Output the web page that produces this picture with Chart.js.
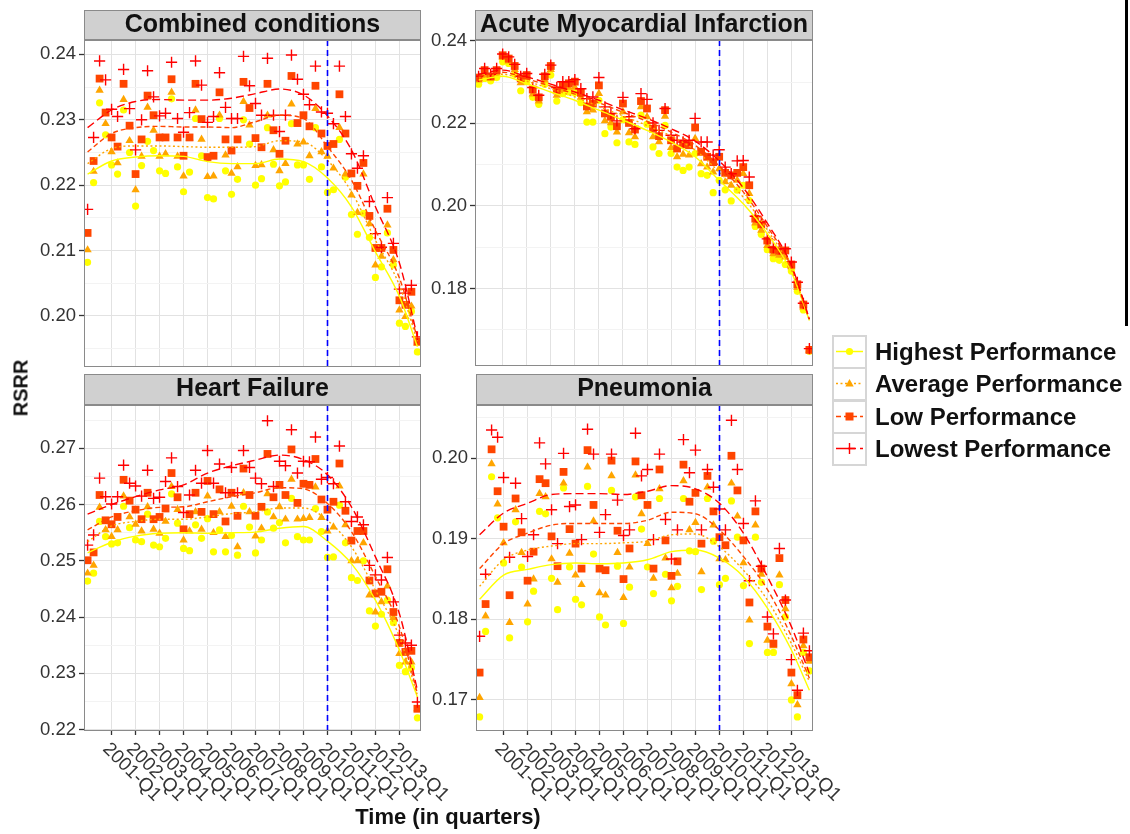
<!DOCTYPE html>
<html>
<head>
<meta charset="utf-8">
<script src="https://cdn.jsdelivr.net/npm/chart.js@4.4.0/dist/chart.umd.min.js"></script>
<style>
  html, body { margin:0; padding:0; background:#fff; }
  body { width:1130px; height:834px; overflow:hidden; position:relative; font-family:"Liberation Sans", Arial, sans-serif; }
  canvas { position:absolute; }
  .axtitle { position:absolute; font-weight:bold; color:#111; white-space:nowrap; }
  .legrow { position:absolute; left:832px; height:33px; }
  .legtext { position:absolute; left:43px; top:0; line-height:33px; font-size:24px; font-weight:bold; color:#111; white-space:nowrap; }
</style>
</head>
<body>
<canvas id="c0" width="440" height="392" style="left:0;top:0"></canvas>
<canvas id="c1" width="420" height="392" style="left:425px;top:0"></canvas>
<canvas id="c2" width="470" height="470" style="left:0;top:364px"></canvas>
<canvas id="c3" width="445" height="470" style="left:425px;top:364px"></canvas>
<div class="axtitle" style="left:448px;top:805px;font-size:22px;line-height:24px;transform:translateX(-50%)">Time (in quarters)</div>
<div class="axtitle" style="left:21px;top:388px;font-size:20px;transform:translate(-50%,-50%) rotate(-90deg)">RSRR</div>
<div id="legend"></div>
<div style="position:absolute;left:1125px;top:0;width:3px;height:326px;background:#000"></div>
<script>
// ---------------- DATA ----------------
const quarters = [
  '2000-Q1','2000-Q2','2000-Q3','2000-Q4','2001-Q1','2001-Q2','2001-Q3','2001-Q4',
  '2002-Q1','2002-Q2','2002-Q3','2002-Q4','2003-Q1','2003-Q2','2003-Q3','2003-Q4',
  '2004-Q1','2004-Q2','2004-Q3','2004-Q4','2005-Q1','2005-Q2','2005-Q3','2005-Q4',
  '2006-Q1','2006-Q2','2006-Q3','2006-Q4','2007-Q1','2007-Q2','2007-Q3','2007-Q4',
  '2008-Q1','2008-Q2','2008-Q3','2008-Q4','2009-Q1','2009-Q2','2009-Q3','2009-Q4',
  '2010-Q1','2010-Q2','2010-Q3','2010-Q4','2011-Q1','2011-Q2','2011-Q3','2011-Q4',
  '2012-Q1','2012-Q2','2012-Q3','2012-Q4','2013-Q1','2013-Q2','2013-Q3','2013-Q4'
];
const xTickLabels = ['2001-Q1','2002-Q1','2003-Q1','2004-Q1','2005-Q1','2006-Q1','2007-Q1',
  '2008-Q1','2009-Q1','2010-Q1','2011-Q1','2012-Q1','2013-Q1'];
const policyQuarter = '2010-Q1';
const smoothQuarters = ['2000-Q1','2001-Q1','2002-Q1','2003-Q1','2004-Q1','2005-Q1','2006-Q1',
  '2007-Q1','2008-Q1','2009-Q1','2010-Q1','2011-Q1','2012-Q1','2013-Q1','2013-Q4'];
const seriesNames = ['Highest Performance','Average Performance','Low Performance','Lowest Performance'];
const panelTitles = ['Combined conditions','Acute Myocardial Infarction','Heart Failure','Pneumonia'];

const combinedYTicks = [0.20,0.21,0.22,0.23,0.24];
const amiYTicks = [0.18,0.20,0.22,0.24];
const hfYTicks = [0.22,0.23,0.24,0.25,0.26,0.27];
const pnYTicks = [0.17,0.18,0.19,0.20];

// Combined conditions
const combinedHighest = [.2082,.2204,.2326,.2277,.2231,.2217,.2315,.2250,.2168,.2230,.2267,.2253,.2222,.2218,.2332,.2228,.2190,.2220,.2302,.2245,.2181,.2179,.2302,.2222,.2186,.2209,.2300,.2263,.2200,.2210,.2288,.2232,.2199,.2205,.2294,.2231,.2231,.2209,.2288,.2228,.2189,.2193,.2270,.2212,.2155,.2125,.2157,.2120,.2059,.2075,.2127,.2078,.1989,.1984,.2007,.1945];
const combinedAverage = [.2101,.2221,.2345,.2294,.2251,.2234,.2331,.2268,.2193,.2244,.2319,.2284,.2244,.2248,.2342,.2244,.2214,.2272,.2315,.2270,.2213,.2214,.2307,.2246,.2218,.2228,.2328,.2292,.2230,.2231,.2307,.2254,.2222,.2233,.2324,.2263,.2266,.2245,.2317,.2251,.2244,.2226,.2288,.2217,.2185,.2158,.2217,.2141,.2078,.2091,.2139,.2086,.2009,.1999,.2015,.1958];
const combinedLow = [.2127,.2237,.2363,.2311,.2273,.2259,.2355,.2291,.2217,.2270,.2337,.2307,.2273,.2273,.2362,.2273,.2245,.2273,.2355,.2301,.2243,.2245,.2342,.2270,.2253,.2270,.2358,.2318,.2272,.2258,.2355,.2284,.2248,.2268,.2367,.2295,.2307,.2290,.2352,.2279,.2260,.2263,.2339,.2279,.2218,.2199,.2234,.2153,.2104,.2104,.2164,.2101,.2024,.2017,.2037,.1961];
const combinedLowest = [.2163,.2273,.2390,.2361,.2316,.2305,.2377,.2317,.2254,.2300,.2375,.2335,.2306,.2310,.2388,.2302,.2281,.2311,.2390,.2353,.2296,.2305,.2372,.2319,.2302,.2302,.2397,.2352,.2325,.2307,.2394,.2307,.2282,.2307,.2399,.2362,.2339,.2323,.2382,.2312,.2310,.2294,.2382,.2305,.2248,.2226,.2245,.2175,.2126,.2105,.2181,.2111,.2041,.2035,.2047,.1968];
const combinedSmoothHighest = [.2217,.2237,.2243,.2245,.2244,.2236,.2233,.2233,.2240,.2236,.2211,.2167,.2098,.2030,.1953];
const combinedSmoothAverage = [.2233,.2256,.2260,.2260,.2259,.2258,.2258,.2259,.2268,.2266,.2238,.2190,.2116,.2047,.1961];
const combinedSmoothLow = [.2251,.2279,.2288,.2290,.2289,.2289,.2288,.2297,.2307,.2302,.2259,.2208,.2131,.2058,.1966];
const combinedSmoothLowest = [.2288,.2315,.2328,.2331,.2330,.2330,.2333,.2340,.2347,.2338,.2306,.2254,.2167,.2081,.1968];

// Acute Myocardial Infarction
const amiHighest = [.2295,.2309,.2303,.2311,.2349,.2345,.2319,.2279,.2301,.2263,.2246,.2295,.2317,.2254,.2272,.2276,.2274,.2250,.2203,.2203,.2256,.2175,.2191,.2153,.2209,.2155,.2149,.2220,.2198,.2143,.2127,.2195,.2127,.2094,.2086,.2094,.2127,.2078,.2074,.2032,.2062,.2039,.2012,.2038,.2050,.2013,.1950,.1931,.1894,.1872,.1868,.1858,.1842,.1793,.1748,.1648];
const amiAverage = [.2305,.2317,.2309,.2322,.2360,.2351,.2330,.2298,.2311,.2271,.2254,.2305,.2330,.2268,.2282,.2287,.2287,.2263,.2228,.2232,.2272,.2206,.2201,.2179,.2228,.2177,.2167,.2240,.2216,.2167,.2155,.2217,.2141,.2119,.2125,.2123,.2163,.2102,.2094,.2082,.2090,.2058,.2050,.2062,.2078,.2030,.1958,.1941,.1904,.1884,.1880,.1876,.1852,.1802,.1755,.1650];
const amiLow = [.2311,.2329,.2314,.2329,.2365,.2357,.2339,.2309,.2317,.2282,.2263,.2314,.2339,.2280,.2292,.2297,.2301,.2274,.2241,.2248,.2292,.2224,.2216,.2193,.2248,.2201,.2185,.2254,.2236,.2187,.2169,.2232,.2159,.2139,.2149,.2147,.2190,.2131,.2119,.2106,.2119,.2080,.2074,.2080,.2094,.2050,.1969,.1955,.1916,.1894,.1891,.1892,.1858,.1810,.1761,.1651];
const amiLowest = [.2314,.2333,.2319,.2333,.2368,.2361,.2343,.2314,.2321,.2287,.2268,.2319,.2341,.2287,.2301,.2301,.2306,.2284,.2260,.2264,.2311,.2240,.2224,.2206,.2263,.2216,.2187,.2272,.2258,.2201,.2183,.2236,.2171,.2159,.2155,.2159,.2212,.2155,.2155,.2123,.2136,.2094,.2078,.2109,.2110,.2070,.1975,.1961,.1920,.1899,.1896,.1896,.1864,.1815,.1764,.1654];
const amiSmoothHighest = [.2305,.2314,.2296,.2276,.2256,.2232,.2208,.2183,.2155,.2119,.2062,.2005,.1933,.1840,.1722];
const amiSmoothAverage = [.2310,.2319,.2302,.2284,.2264,.2241,.2218,.2195,.2169,.2135,.2082,.2021,.1942,.1845,.1724];
const amiSmoothLow = [.2314,.2324,.2308,.2290,.2271,.2250,.2227,.2205,.2179,.2147,.2097,.2034,.1950,.1852,.1725];
const amiSmoothLowest = [.2319,.2329,.2313,.2295,.2276,.2256,.2233,.2212,.2187,.2157,.2109,.2044,.1958,.1856,.1726];

// Heart Failure
const hfHighest = [.2464,.2478,.2570,.2543,.2530,.2532,.2597,.2559,.2537,.2534,.2583,.2528,.2525,.2540,.2619,.2567,.2522,.2518,.2564,.2540,.2575,.2516,.2555,.2516,.2545,.2510,.2597,.2560,.2514,.2537,.2587,.2558,.2568,.2532,.2611,.2543,.2537,.2537,.2593,.2552,.2506,.2507,.2599,.2532,.2470,.2465,.2500,.2411,.2384,.2405,.2430,.2390,.2314,.2303,.2310,.2221];
const hfAverage = [.2478,.2492,.2595,.2555,.2543,.2555,.2615,.2578,.2565,.2553,.2596,.2556,.2549,.2570,.2632,.2591,.2537,.2553,.2587,.2556,.2615,.2550,.2587,.2543,.2597,.2525,.2621,.2587,.2544,.2558,.2619,.2578,.2596,.2574,.2645,.2574,.2575,.2577,.2631,.2577,.2553,.2560,.2633,.2564,.2500,.2500,.2532,.2439,.2409,.2427,.2455,.2399,.2335,.2320,.2320,.2237];
const hfLow = [.2501,.2515,.2617,.2572,.2565,.2578,.2644,.2607,.2591,.2574,.2621,.2574,.2578,.2593,.2656,.2613,.2556,.2583,.2621,.2587,.2642,.2583,.2627,.2570,.2621,.2580,.2664,.2617,.2580,.2596,.2690,.2613,.2635,.2617,.2698,.2603,.2637,.2635,.2681,.2609,.2591,.2605,.2673,.2589,.2536,.2553,.2553,.2465,.2442,.2445,.2485,.2409,.2354,.2338,.2340,.2237];
const hfLowest = [.2528,.2546,.2647,.2614,.2601,.2614,.2670,.2638,.2633,.2615,.2661,.2611,.2613,.2641,.2683,.2632,.2586,.2617,.2661,.2638,.2696,.2638,.2672,.2621,.2666,.2621,.2696,.2666,.2647,.2637,.2749,.2632,.2677,.2669,.2733,.2656,.2677,.2676,.2720,.2645,.2648,.2637,.2704,.2605,.2570,.2578,.2564,.2492,.2475,.2466,.2506,.2427,.2368,.2354,.2350,.2249];
const hfSmoothHighest = [.2514,.2533,.2544,.2549,.2550,.2549,.2550,.2551,.2558,.2561,.2535,.2495,.2430,.2341,.2258];
const hfSmoothAverage = [.2534,.2562,.2570,.2574,.2574,.2578,.2584,.2587,.2594,.2594,.2572,.2525,.2448,.2365,.2261];
const hfSmoothLow = [.2555,.2578,.2589,.2595,.2596,.2605,.2614,.2621,.2630,.2628,.2602,.2552,.2472,.2383,.2264];
const hfSmoothLowest = [.2583,.2600,.2614,.2626,.2635,.2656,.2669,.2679,.2688,.2680,.2653,.2596,.2507,.2406,.2270];

// Pneumonia
const pnHighest = [.1679,.1785,.1977,.1926,.1870,.1777,.1921,.1865,.1797,.1835,.1934,.1931,.1851,.1812,.1963,.1865,.1825,.1818,.1965,.1881,.1803,.1793,.1960,.1866,.1795,.1840,.1952,.1912,.1865,.1832,.1950,.1856,.1823,.1841,.1950,.1885,.1884,.1837,.1950,.1897,.1843,.1851,.1947,.1902,.1842,.1770,.1902,.1846,.1759,.1759,.1843,.1803,.1700,.1679,.1759,.1736];
const pnAverage = [.1703,.1804,.1993,.1943,.1895,.1796,.1936,.1883,.1819,.1850,.1956,.1952,.1875,.1846,.1969,.1882,.1855,.1843,.1989,.1922,.1833,.1830,.1978,.1883,.1827,.1865,.1979,.1931,.1894,.1851,.1962,.1876,.1839,.1857,.1972,.1911,.1920,.1859,.1964,.1917,.1875,.1874,.1969,.1928,.1870,.1799,.1917,.1856,.1774,.1767,.1855,.1813,.1720,.1694,.1767,.1748];
const pnLow = [.1734,.1819,.2011,.1959,.1915,.1830,.1950,.1908,.1848,.1884,.1974,.1969,.1903,.1866,.1983,.1912,.1894,.1863,.2010,.1942,.1863,.1861,.1997,.1910,.1850,.1888,.1996,.1954,.1942,.1863,.1986,.1898,.1854,.1872,.1992,.1946,.1957,.1894,.1978,.1934,.1902,.1892,.2003,.1960,.1898,.1821,.1934,.1863,.1791,.1770,.1876,.1824,.1734,.1706,.1775,.1753];
const pnLowest = [.1779,.1856,.2035,.2026,.1976,.1877,.1969,.1925,.1878,.1905,.2019,.1993,.1936,.1894,.2006,.1940,.1942,.1899,.2036,.2005,.1908,.1930,.2005,.1948,.1904,.1911,.2031,.1978,.1986,.1899,.2005,.1924,.1875,.1911,.2023,.1982,.2010,.1911,.1986,.1964,.1937,.1911,.2047,.1986,.1919,.1848,.1947,.1866,.1803,.1782,.1888,.1824,.1750,.1712,.1783,.1761];
const pnSmoothHighest = [.1825,.1855,.1862,.1868,.1870,.1869,.1870,.1874,.1884,.1886,.1876,.1853,.1814,.1762,.1712];
const pnSmoothAverage = [.1841,.1874,.1886,.1891,.1894,.1894,.1895,.1897,.1905,.1906,.1890,.1861,.1824,.1770,.1723];
const pnSmoothLow = [.1863,.1894,.1907,.1917,.1919,.1919,.1919,.1923,.1933,.1931,.1911,.1878,.1837,.1779,.1727];
const pnSmoothLowest = [.1905,.1932,.1944,.1955,.1956,.1956,.1955,.1959,.1966,.1962,.1944,.1907,.1853,.1791,.1733];

// ---------------- STYLE ----------------
Chart.defaults.font.family = '"Liberation Sans", Arial, sans-serif';
const seriesColors = ['#FFFF00','#FFA500','#FF4500','#FF0000'];
const pointStyles = ['circle','triangle','rect','cross'];
const pointRadii = [3.6, 4.8, 5.5, 5.6];
const lineDashes = [[], [2,2.5], [5,3], [8,4]];
const gridMajor = '#E2E2E2', gridMinor = '#F3F3F3', tickCol = '#333333', frameCol = '#8A8A8A';

function isOn(v, list) { return list.some(t => Math.abs(t - v) < 1e-9); }

const stripPlugin = {
  id: 'strip',
  beforeDraw(chart) {
    const t = chart.titleBlock, a = chart.chartArea, ctx = chart.ctx;
    ctx.save();
    ctx.fillStyle = '#D0D0D0';
    ctx.fillRect(a.left, t.top, a.right - a.left, t.bottom - t.top);
    ctx.strokeStyle = frameCol; ctx.lineWidth = 1;
    ctx.strokeRect(Math.round(a.left) + 0.5, Math.round(t.top) + 0.5, Math.round(a.right - a.left) - 1, Math.round(t.bottom - t.top) - 1);
    ctx.restore();
  }
};

const panelPlugin = {
  id: 'panel',
  afterDatasetsDraw(chart) {
    const a = chart.chartArea, ctx = chart.ctx, xs = chart.scales.x;
    const px = Math.round(xs.getPixelForValue(quarters.indexOf(policyQuarter))) + 0.5;
    ctx.save();
    ctx.strokeStyle = '#0000FF'; ctx.lineWidth = 1.6; ctx.setLineDash([6, 4]);
    ctx.beginPath(); ctx.moveTo(px, a.top); ctx.lineTo(px, a.bottom); ctx.stroke();
    ctx.setLineDash([]);
    ctx.strokeStyle = frameCol; ctx.lineWidth = 1;
    ctx.strokeRect(Math.round(a.left) + 0.5, Math.round(a.top) + 0.5, Math.round(a.right - a.left) - 1, Math.round(a.bottom - a.top) - 1);
    ctx.restore();
  },
  afterDraw(chart, args, opts) {
    if (!opts.showX) return;
    const a = chart.chartArea, ctx = chart.ctx, xs = chart.scales.x;
    ctx.save();
    ctx.fillStyle = tickCol;
    ctx.font = '19px "Liberation Sans", Arial, sans-serif';
    ctx.textAlign = 'left'; ctx.textBaseline = 'middle';
    xTickLabels.forEach(lbl => {
      const x = xs.getPixelForValue(quarters.indexOf(lbl));
      ctx.save();
      ctx.translate(x - 6, a.bottom + 15);
      ctx.rotate(Math.PI / 4);
      ctx.fillText(lbl, 0, 0);
      ctx.restore();
    });
    ctx.restore();
  }
};

function buildPanel(canvasId, title, series, smooth, yMin, yMax, yTicks, o) {
  const datasets = [];
  for (let s = 3; s >= 0; s--) {
    datasets.push({
      type: 'scatter', showLine: true,
      data: smooth[s].map((v, k) => ({ x: quarters.indexOf(smoothQuarters[k]), y: v })),
      borderColor: seriesColors[s], borderWidth: 1.4, borderDash: lineDashes[s],
      pointRadius: 0, cubicInterpolationMode: 'monotone', fill: false
    });
  }
  for (let s = 3; s >= 0; s--) {
    datasets.push({
      type: 'scatter', showLine: false,
      data: series[s].map((v, i) => ({ x: i, y: v })),
      pointStyle: pointStyles[s], pointRadius: pointRadii[s],
      backgroundColor: seriesColors[s], borderColor: seriesColors[s],
      pointBorderWidth: s === 3 ? 1.4 : 0
    });
  }
  const step = yTicks[1] - yTicks[0];
  const padding = { left: 0, right: o.canvasW - o.area.right, top: 10, bottom: o.canvasH - o.area.bottom };
  const chart = new Chart(document.getElementById(canvasId), {
    type: 'scatter',
    data: { datasets },
    options: {
      responsive: false, animation: false, devicePixelRatio: 1,
      layout: { padding: padding },
      plugins: {
        legend: { display: false }, tooltip: { enabled: false },
        title: { display: true, text: title, fullSize: false, color: '#111',
          font: { size: 25, weight: 'bold', lineHeight: 1.2 }, padding: { top: 0, bottom: o.titlePad } },
        panel: { showX: o.showX }
      },
      scales: {
        x: {
          type: 'linear', min: -0.6, max: 55.6,
          afterBuildTicks: sc => { sc.ticks = xTickLabels.map(l => ({ value: quarters.indexOf(l) })); },
          afterFit: sc => { sc.height = 0; },
          ticks: { display: false, autoSkip: false },
          grid: { color: gridMajor, lineWidth: 1, drawTicks: o.showX, tickLength: 4, tickColor: tickCol, tickWidth: 1.3 },
          border: { display: false }
        },
        y: {
          min: yMin, max: yMax,
          afterBuildTicks: sc => {
            const vals = [];
            for (let v = yTicks[0] - step / 2; v <= yMax + 1e-12; v += step / 2) if (v >= yMin) vals.push(v);
            sc.ticks = vals.map(v => ({ value: v }));
          },
          afterFit: sc => { sc.width = o.area.left; },
          ticks: { autoSkip: false, color: tickCol, font: { size: 18.5 }, padding: 3,
            callback: v => isOn(v, yTicks) ? v.toFixed(2) : '' },
          grid: {
            color: c => (c.tick && isOn(c.tick.value, yTicks)) ? gridMajor : gridMinor,
            tickColor: c => (c.tick && isOn(c.tick.value, yTicks)) ? tickCol : 'rgba(0,0,0,0)',
            tickLength: 5, tickWidth: 1.3, lineWidth: 1
          },
          border: { display: false }
        }
      }
    },
    plugins: [stripPlugin, panelPlugin]
  });
  // nudge layout padding so the plotting area lands on the target rectangle
  for (let k = 0; k < 4; k++) {
    const a = chart.chartArea;
    const dl = o.area.left - a.left, dr = a.right - o.area.right, dt = o.area.top - a.top, db = a.bottom - o.area.bottom;
    if (Math.abs(dl) + Math.abs(dr) + Math.abs(dt) + Math.abs(db) < 0.5) break;
    const p = chart.config.options.layout.padding;
    p.left += dl; p.right += dr; p.top += dt; p.bottom += db;
    chart.update();
  }
  return chart;
}

buildPanel('c0', panelTitles[0],
  [combinedHighest, combinedAverage, combinedLow, combinedLowest],
  [combinedSmoothHighest, combinedSmoothAverage, combinedSmoothLow, combinedSmoothLowest],
  0.1922, 0.2422, combinedYTicks,
  { canvasW: 440, canvasH: 392, area: { left: 84, top: 40, right: 421, bottom: 367 }, titlePad: 0, showX: false });

buildPanel('c1', panelTitles[1],
  [amiHighest, amiAverage, amiLow, amiLowest],
  [amiSmoothHighest, amiSmoothAverage, amiSmoothLow, amiSmoothLowest],
  0.1612, 0.2402, amiYTicks,
  { canvasW: 420, canvasH: 392, area: { left: 50, top: 40, right: 388, bottom: 366 }, titlePad: 0, showX: false });

buildPanel('c2', panelTitles[2],
  [hfHighest, hfAverage, hfLow, hfLowest],
  [hfSmoothHighest, hfSmoothAverage, hfSmoothLow, hfSmoothLowest],
  0.21975, 0.2777, hfYTicks,
  { canvasW: 470, canvasH: 470, area: { left: 84, top: 41, right: 421, bottom: 367 }, titlePad: 1, showX: true });

buildPanel('c3', panelTitles[3],
  [pnHighest, pnAverage, pnLow, pnLowest],
  [pnSmoothHighest, pnSmoothAverage, pnSmoothLow, pnSmoothLowest],
  0.16615, 0.2066, pnYTicks,
  { canvasW: 445, canvasH: 470, area: { left: 51, top: 41, right: 388, bottom: 367 }, titlePad: 1, showX: true });

// ---------------- LEGEND ----------------
(function buildLegend() {
  const leg = document.getElementById('legend');
  const svgDash = ['', '2,2.5', '5,3', '8,4'];
  let html = '';
  seriesNames.forEach((name, s) => {
    const c = seriesColors[s];
    let marker = '';
    if (s === 0) marker = `<circle cx="17.5" cy="16.5" r="3.6" fill="${c}"/>`;
    if (s === 1) marker = `<polygon points="17.5,12 21.7,19.6 13.3,19.6" fill="${c}"/>`;
    if (s === 2) marker = `<rect x="13.5" y="12.5" width="8" height="8" fill="${c}"/>`;
    if (s === 3) marker = `<path d="M12 16.5 H23 M17.5 11 V22" stroke="${c}" stroke-width="1.4"/>`;
    html += `<div class="legrow" style="top:${335 + s * 32.3}px">
      <svg width="36" height="34" style="position:absolute;left:0;top:0">
        <rect x="1" y="1" width="33" height="32" fill="#fff" stroke="#D6D6D6" stroke-width="2"/>
        <line x1="4" y1="16.5" x2="31" y2="16.5" stroke="${c}" stroke-width="1.5" ${svgDash[s] ? `stroke-dasharray="${svgDash[s]}"` : ''}/>
        ${marker}
      </svg>
      <span class="legtext">${name}</span></div>`;
  });
  leg.innerHTML = html;
})();
</script>
</body>
</html>
